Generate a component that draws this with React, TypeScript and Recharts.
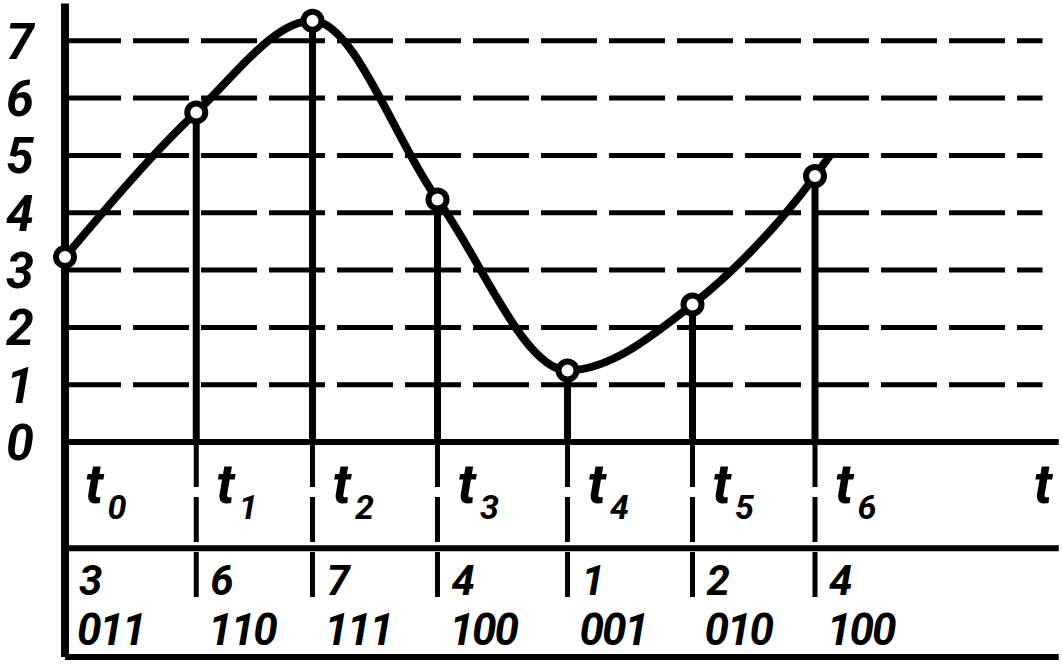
import React from "react";
import {
  ComposedChart,
  Line,
  Scatter,
  XAxis,
  YAxis,
  ReferenceLine,
  ReferenceDot,
} from "recharts";

// sampling instants (in units of the sampling step) and sampled signal levels
const times = [0, 1.05, 1.98, 2.98, 4.02, 5.02, 6.0];
const samples = [3.23, 5.75, 7.35, 4.23, 1.25, 2.4, 4.64];
// the curve runs on a little past the last sample
const tailTime = 6.12;
const tailValue = 5.0;

const levels = [1, 2, 3, 4, 5, 6, 7];
const yTicks = [0, 1, 2, 3, 4, 5, 6, 7];
const subscripts = ["0", "1", "2", "3", "4", "5", "6"];
const quantized = ["3", "6", "7", "4", "1", "2", "4"];
const codes = ["011", "110", "111", "100", "001", "010", "100"];

const labelRowY = -0.95;
const codeRowY = -2.7;
const dividerY = -1.85;
const bottomY = -3.75;
const xEnd = 7.95;
const gridEnd = 7.82;

const FONT = "Roboto, sans-serif";

const curve = [
  ...times.map((t, i) => ({ t, v: samples[i] })),
  { t: tailTime, v: tailValue },
];
const points = times.map((t, i) => ({ t, v: samples[i] }));
const tRow = times.map((t, i) => ({ t, v: labelRowY, sub: subscripts[i] }));
const codeRow = times.map((t, i) => ({ t, v: codeRowY, q: quantized[i], code: codes[i] }));

const YTick = (props: any) => (
  <text
    x={20}
    y={props.y + 18}
    textAnchor="middle"
    fontFamily={FONT}
    fontStyle="italic"
    fontWeight="bold"
    fontSize={50}
    fill="#000"
  >
    {props.payload.value}
  </text>
);

export default function App() {
  return (
    <div style={{ position: "absolute", left: 0, top: 0, background: "#fff" }}>
      <ComposedChart
        width={1062}
        height={664}
        margin={{ top: 0, right: 0, bottom: 0, left: 0 }}
      >
        <XAxis type="number" dataKey="t" domain={[0, 7.976]} hide />
        <YAxis
          type="number"
          dataKey="v"
          domain={[-3.87, 7.71]}
          ticks={yTicks}
          width={65}
          axisLine={false}
          tickLine={false}
          tick={YTick}
        />

        {levels.map((l) => (
          <ReferenceLine
            key={"g" + l}
            segment={[{ x: 0, y: l }, { x: gridEnd, y: l }]}
            stroke="#000"
            strokeWidth={5}
            strokeDasharray="56 12"
          />
        ))}
        <ReferenceLine segment={[{ x: 0, y: 0 }, { x: xEnd, y: 0 }]} stroke="#000" strokeWidth={6} />
        <ReferenceLine segment={[{ x: 0, y: dividerY }, { x: xEnd, y: dividerY }]} stroke="#000" strokeWidth={6} />
        <ReferenceLine segment={[{ x: 0, y: bottomY }, { x: xEnd, y: bottomY }]} stroke="#000" strokeWidth={6} />
        <ReferenceLine segment={[{ x: 0, y: 7.65 }, { x: 0, y: bottomY }]} stroke="#000" strokeWidth={8} />

        {points.map((p, i) => (
          <ReferenceLine
            key={"s" + i}
            segment={[{ x: p.t, y: p.v }, { x: p.t, y: 0 }]}
            stroke="#000"
            strokeWidth={7}
          />
        ))}
        {points.map((p, i) => (
          <ReferenceLine
            key={"d" + i}
            segment={[{ x: p.t, y: 0 }, { x: p.t, y: codeRowY }]}
            stroke="#000"
            strokeWidth={5}
            strokeDasharray="45 10"
          />
        ))}

        <Line
          data={curve}
          dataKey="v"
          type="monotone"
          stroke="#000"
          strokeWidth={8}
          dot={false}
          isAnimationActive={false}
        />
        <Scatter
          data={points}
          dataKey="v"
          isAnimationActive={false}
          shape={(p: any) => (
            <circle cx={p.cx} cy={p.cy} r={9} fill="#fff" stroke="#000" strokeWidth={6} />
          )}
        />
        <Scatter
          data={tRow}
          dataKey="v"
          isAnimationActive={false}
          shape={(p: any) => (
            <text
              x={p.cx + 20}
              y={p.cy + 6}
              fontFamily={FONT}
              fontStyle="italic"
              fontWeight="bold"
              fontSize={56}
              fill="#000"
            >
              t
              <tspan dx={4} dy={16} fontSize={34}>
                {p.payload.sub}
              </tspan>
            </text>
          )}
        />
        <Scatter
          data={codeRow}
          dataKey="v"
          isAnimationActive={false}
          shape={(p: any) => (
            <g>
              <text
                x={p.cx + 14}
                y={p.cy - 2}
                fontFamily={FONT}
                fontStyle="italic"
                fontWeight="bold"
                fontSize={42}
                fill="#000"
              >
                {p.payload.q}
              </text>
              <text
                x={p.cx + 12}
                y={p.cy + 48}
                fontFamily={FONT}
                fontStyle="italic"
                fontWeight="bold"
                fontSize={44}
                letterSpacing={-2}
                fill="#000"
              >
                {p.payload.code}
              </text>
            </g>
          )}
        />
        <ReferenceDot
          x={7.75}
          y={labelRowY}
          r={0}
          shape={(p: any) => (
            <text
              x={p.cx}
              y={p.cy + 6}
              fontFamily={FONT}
              fontStyle="italic"
              fontWeight="bold"
              fontSize={56}
              fill="#000"
            >
              t
            </text>
          )}
        />
      </ComposedChart>
    </div>
  );
}
